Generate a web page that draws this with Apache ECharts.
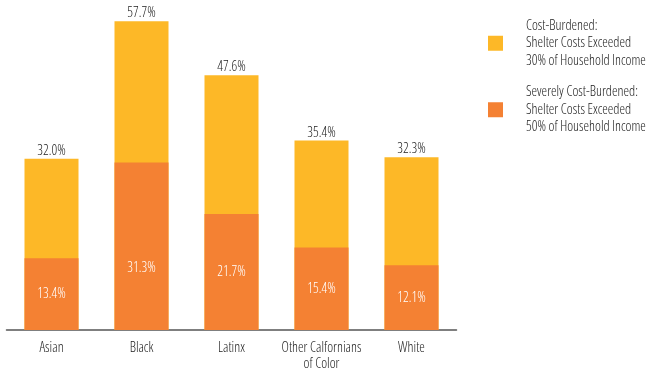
<!DOCTYPE html>
<html><head><meta charset="utf-8">
<script src="https://cdn.jsdelivr.net/npm/echarts@6/dist/echarts.min.js"></script>
<style>html,body{margin:0;padding:0;background:#fff}#c{width:661px;height:372px}</style>
</head><body><div id="c"></div>
<script>
const categories = ['Asian', 'Black', 'Latinx', 'Other Calfornians\nof Color', 'White'];
const costBurdened = [32.0, 57.7, 47.6, 35.4, 32.3];
const severelyCostBurdened = [13.4, 31.3, 21.7, 15.4, 12.1];
const seriesNames = ['Cost-Burdened:\nShelter Costs Exceeded\n30% of Household Income',
                     'Severely Cost-Burdened:\nShelter Costs Exceeded\n50% of Household Income'];

// pick the narrowest installed font face
const candidates = [
  ['normal', "'Liberation Sans Narrow'"],
  ['normal', "'DejaVu Sans Condensed'"],
  ['350 condensed', "'DejaVu Sans'"],
  ['350 condensed', "'Open Sans'"],
  ['350 condensed', "'Noto Sans'"],
  ['350 condensed', "'Liberation Sans'"],
  ['350 condensed', 'Roboto'],
  ['normal', 'Roboto'],
  ['normal', 'Lato']
];
const cv = document.createElement('canvas').getContext('2d');
let best = null;
candidates.forEach(([w, f]) => {
  cv.font = 'normal ' + w + ' 13px ' + f;
  const width = cv.measureText('Shelter Costs Exceeded').width;
  if (!best || width < best.width - 0.5) best = { w, f, width };
});
const FONT = best.f;
const WEIGHT = best.w;
const SIZE = 14;

const chart = echarts.init(document.getElementById('c'));
const txt = (extra) => Object.assign({ fontFamily: FONT, fontWeight: WEIGHT, fontSize: SIZE }, extra);
chart.setOption({
  animation: false,
  textStyle: { fontFamily: FONT },
  grid: { left: 6.5, width: 450, top: 9, bottom: 38, containLabel: false },
  legend: {
    orient: 'vertical', left: 488, top: 17, padding: 0, itemWidth: 15, itemHeight: 15, itemGap: 14,
    icon: 'rect',
    textStyle: txt({ color: '#222', lineHeight: 17.5, padding: [0, 0, 0, 18] }),
    data: seriesNames
  },
  xAxis: {
    type: 'category', data: categories,
    axisLine: { lineStyle: { color: '#555', width: 1.5 } },
    axisTick: { show: false },
    axisLabel: txt({ color: '#222', margin: 10, lineHeight: 16, interval: 0 })
  },
  yAxis: { type: 'value', min: 0, max: 60, show: false, splitLine: { show: false } },
  series: [
    {
      name: seriesNames[0], type: 'bar', data: costBurdened, barWidth: 54, barGap: '-100%',
      itemStyle: { color: '#FDB827' },
      label: txt({ show: true, position: 'top', distance: 1, formatter: p => p.value.toFixed(1) + '%', color: '#222' })
    },
    {
      name: seriesNames[1], type: 'bar', barWidth: 54, barGap: '-100%',
      data: severelyCostBurdened.map((v, i) => ({ value: v, label: { offset: [0, i === 1 ? 22 : 0] } })),
      itemStyle: { color: '#F48133' },
      label: txt({ show: true, position: 'inside', formatter: p => p.value.toFixed(1) + '%', color: '#fff' })
    }
  ]
});
</script></body></html>
